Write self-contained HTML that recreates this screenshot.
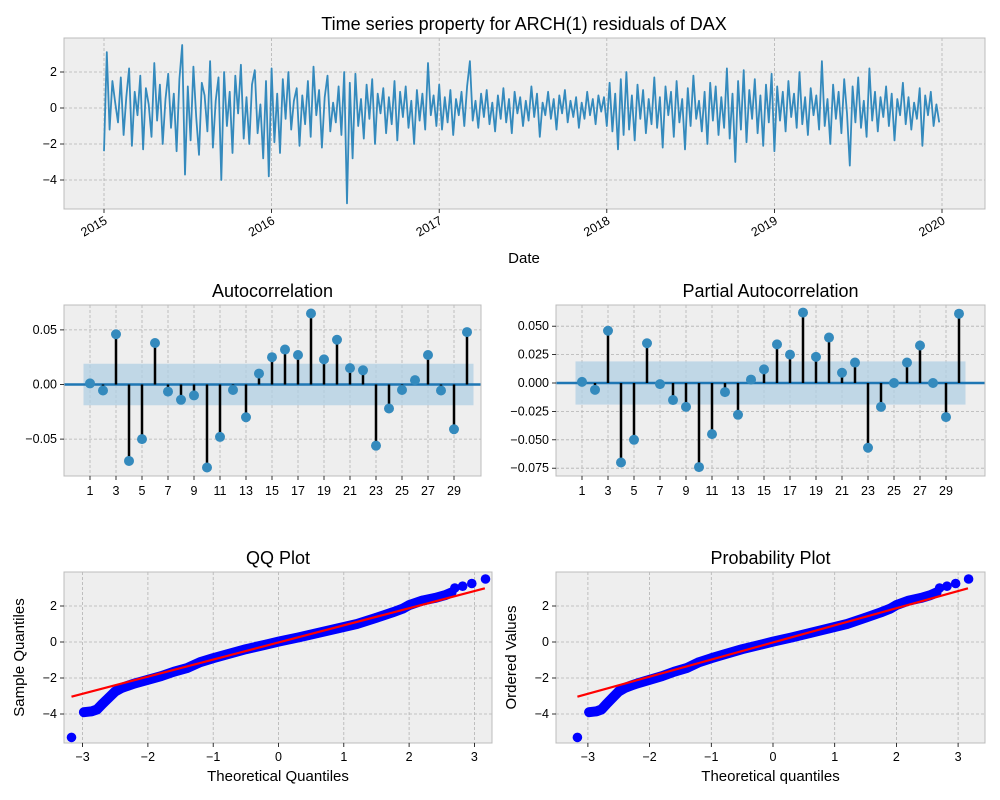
<!DOCTYPE html>
<html><head><meta charset="utf-8"><style>
html,body{margin:0;padding:0;background:#fff;}
svg{display:block;font-family:"Liberation Sans","DejaVu Sans",sans-serif;}
</style></head><body>
<svg id="fig" width="1000" height="800" xmlns="http://www.w3.org/2000/svg"></svg>
<script>
// ---------- data ----------
const seriesStartYear = 2015;
const seriesPerYear = 60;
const residuals = [
-2.4,3.1,-1.2,1.5,0.3,-0.8,1.7,-1.5,0.6,2.2,-2.1,0.9,-0.4,1.8,-2.3,1.1,0.2,-1.6,2.5,-0.7,1.3,-2.0,0.5,1.9,-1.1,0.8,-2.4,1.6,3.5,-3.7,1.2,-1.8,2.3,-0.5,-2.6,1.4,0.7,-1.3,2.6,-2.2,0.4,1.7,-4.0,2.0,-1.0,0.9,-2.5,1.8,-0.3,2.4,-1.7,0.6,-2.0,1.3,2.1,-1.4,0.2,-2.8,1.5,-3.8,
2.2,-1.9,0.8,-2.5,1.6,-0.6,2.0,-1.2,0.4,1.1,-2.1,0.7,-0.9,1.5,-1.6,2.3,-0.4,1.0,-2.2,0.6,1.8,-1.3,0.3,-0.8,1.2,-1.5,2.0,-5.3,1.4,-2.8,1.9,-1.0,0.5,-1.7,1.3,-0.6,1.6,-2.0,0.8,-0.3,1.1,-1.4,0.6,-0.9,1.5,-1.8,0.9,-0.5,1.2,-1.1,0.4,-2.0,1.0,-0.7,0.8,-1.2,2.5,-0.4,0.7,-1.0,
1.3,-1.2,0.6,-0.8,1.0,-1.5,0.5,-0.4,0.9,-1.0,1.2,2.6,-0.7,0.4,-1.1,0.8,-0.5,1.0,-0.9,0.3,-1.3,0.7,-0.6,1.1,-0.8,0.5,-1.4,0.9,-0.3,0.6,-1.0,0.4,-0.7,1.2,-0.5,0.8,-1.6,0.3,-0.4,0.9,-0.6,0.5,-1.2,0.7,-0.3,1.0,-0.8,0.4,-0.5,0.6,-1.1,0.3,-0.6,0.9,-0.4,0.5,-0.9,0.7,-0.2,0.6,
-1.0,1.4,-1.3,0.8,-2.3,1.6,-1.5,2.0,-1.2,0.7,-1.8,1.3,-0.6,1.0,-1.4,0.5,-0.9,1.7,-1.1,0.6,-2.2,1.2,-0.4,0.9,-1.6,1.5,-0.8,0.5,-2.3,1.1,-1.0,1.8,-0.6,0.4,-1.3,0.9,-2.0,1.4,-0.7,1.2,-1.5,0.6,-1.1,2.2,-1.7,0.8,-3.0,1.5,-1.2,2.1,-1.9,1.0,-0.6,1.6,-1.4,0.7,-2.1,1.3,-0.8,1.9,
-2.4,1.2,-0.7,0.9,-1.3,1.5,-0.5,0.8,-1.1,2.0,-0.9,0.6,-1.5,1.1,-0.4,0.7,-1.2,2.6,-1.0,0.5,-2.0,1.3,-0.6,0.9,-1.4,1.6,-0.3,-3.2,1.2,-0.8,1.7,-1.1,0.4,-1.6,2.2,-0.7,0.9,-1.3,0.6,-0.5,1.2,-1.0,0.8,-1.8,0.5,-0.4,1.4,-0.9,0.6,-1.2,0.3,-0.6,1.1,-2.1,0.7,-0.4,0.9,-1.0,0.2,-0.8];
const tsYearTicks = [2015,2016,2017,2018,2019,2020];
const tsYTicks = [2,0,-2,-4];
const acfValues = [0.001,-0.0055,0.046,-0.070,-0.050,0.038,-0.0065,-0.014,-0.010,-0.076,-0.048,-0.005,-0.030,0.010,0.025,0.032,0.027,0.065,0.023,0.041,0.015,0.013,-0.056,-0.022,-0.005,0.004,0.027,-0.0055,-0.041,0.048];
const pacfValues = [0.001,-0.006,0.046,-0.070,-0.050,0.035,-0.001,-0.015,-0.021,-0.074,-0.045,-0.008,-0.028,0.003,0.012,0.034,0.025,0.062,0.023,0.040,0.009,0.018,-0.057,-0.021,0,0.018,0.033,0,-0.030,0.061];
const confBand = 0.019;
const lagTicks = [1,3,5,7,9,11,13,15,17,19,21,23,25,27,29];
const acfYTicks = [0.05,0,-0.05];
const acfYLabels = ["0.05","0.00","\u22120.05"];
const pacfYTicks = [0.05,0.025,0,-0.025,-0.05,-0.075];
const pacfYLabels = ["0.050","0.025","0.000","\u22120.025","\u22120.050","\u22120.075"];
const qqTheoretical = [-3.17,-2.98,-2.86,-2.78,-2.7,-2.6,-2.5,-2.4,-2.3,-2.2,-2.0,-1.8,-1.6,-1.4,-1.2,-1.0,-0.8,-0.5,-0.2,0,0.3,0.6,0.9,1.2,1.5,1.75,1.9,2.0,2.2,2.4,2.55,2.65,2.7,2.82,2.96,3.17];
const qqSample = [-5.3,-3.9,-3.85,-3.75,-3.45,-3.1,-2.75,-2.55,-2.42,-2.3,-2.1,-1.9,-1.65,-1.45,-1.12,-0.9,-0.7,-0.4,-0.15,0.02,0.25,0.5,0.75,1.0,1.35,1.65,1.85,2.05,2.3,2.45,2.6,2.75,3.0,3.1,3.25,3.5];
const fitLineX = [-3.17,3.16];
const fitLineY = [-3.04,2.98];
const qqXTicks = [-3,-2,-1,0,1,2,3];
const qqYTicks = [2,0,-2,-4];

// ---------- helpers ----------
const NS="http://www.w3.org/2000/svg";
const svg=document.getElementById('fig');
function mk(tag,attrs,parent){const e=document.createElementNS(NS,tag);for(const k in attrs)e.setAttribute(k,attrs[k]);(parent||svg).appendChild(e);return e;}
function txt(s,x,y,size,anchor,parent,extra){const t=mk('text',Object.assign({x:x,y:y,'font-size':size,'text-anchor':anchor||'middle',fill:'#000'},extra||{}),parent);t.textContent=s;return t;}
function lin(d0,d1,p0,p1){return v=>p0+(v-d0)*(p1-p0)/(d1-d0);}
const neg=v=>String(v).replace('-','\u2212');

function axesBox(x0,y0,x1,y1,name){
  const g=mk('g',{});
  
  
  mk('rect',{x:x0,y:y0,width:x1-x0,height:y1-y0,fill:'#eeeeee'},g);
  return g;
}
function frame(g,x0,y0,x1,y1){mk('rect',{x:x0,y:y0,width:x1-x0,height:y1-y0,fill:'none',stroke:'#bcbcbc','stroke-width':1},g);}
function gridX(g,x,y0,y1){mk('line',{x1:x,x2:x,y1:y0,y2:y1,stroke:'#b2b2b2','stroke-width':0.8,'stroke-dasharray':'3,2'},g);}
function gridY(g,y,x0,x1){mk('line',{x1:x0,x2:x1,y1:y,y2:y,stroke:'#b2b2b2','stroke-width':0.8,'stroke-dasharray':'3,2'},g);}
function tickB(g,x,y){mk('line',{x1:x,x2:x,y1:y,y2:y+4,stroke:'#000','stroke-width':0.8},g);}
function tickL(g,x,y){mk('line',{x1:x-4,x2:x,y1:y,y2:y,stroke:'#000','stroke-width':0.8},g);}

// ---------- time series ----------
(function(){
  const x0=64,y0=38,x1=985,y1=209;
  const X=lin(2015,2020,104,942), Y=lin(0,2,108,72);
  const g=axesBox(x0,y0,x1,y1,'time-series-axes');
  tsYearTicks.forEach(t=>{gridX(g,X(t),y0,y1);});
  tsYTicks.forEach(t=>{gridY(g,Y(t),x0,x1);});
  let d='';
  residuals.forEach((v,i)=>{d+=(i?'L':'M')+X(seriesStartYear+i/seriesPerYear).toFixed(1)+','+Y(v).toFixed(1);});
  const p=mk('path',{d:d,fill:'none',stroke:'#348abd','stroke-width':1.8,'stroke-linejoin':'round'},g);
  
  
  frame(g,x0,y0,x1,y1);
  tsYearTicks.forEach(t=>{tickB(g,X(t),y1);
    const l=txt(String(t),X(t)+4,y1+14,12.5,'end',g,{transform:'rotate(-30 '+(X(t)+4)+' '+(y1+14)+')'});
    });
  tsYTicks.forEach(t=>{tickL(g,x0,Y(t));txt(neg(t),x0-7,Y(t)+4,12.5,'end',g);});
  const tt=txt('Time series property for ARCH(1) residuals of DAX',524,30,18,'middle');
  
  const xl=txt('Date',524,263,15,'middle');
  
})();

// ---------- ACF / PACF ----------
function corrPlot(vals,x0,x1,lag1x,zeroY,unitPx,unitVal,ticks,labels,title,name){
  const y0=305,y1=476;
  const X=lin(1,2,lag1x,lag1x+13), Y=lin(0,unitVal,zeroY,zeroY-unitPx);
  const g=axesBox(x0,y0,x1,y1,name);
  lagTicks.forEach(t=>gridX(g,X(t),y0,y1));
  ticks.forEach(t=>gridY(g,Y(t),x0,x1));
  const band=mk('rect',{x:X(0.5),y:Y(confBand),width:X(30.5)-X(0.5),height:Y(-confBand)-Y(confBand),fill:'#b0cfe3','fill-opacity':0.75},g);
  
  mk('line',{x1:x0,x2:x1,y1:Y(0),y2:Y(0),stroke:'#1f77b4','stroke-width':2.5},g);
  vals.forEach((v,i)=>{const lag=i+1;
    const s=mk('line',{x1:X(lag),x2:X(lag),y1:Y(0),y2:Y(v),stroke:'#000','stroke-width':2.5},g);
    
    const c=mk('circle',{cx:X(lag),cy:Y(v),r:5,fill:'#348abd'},g);
    });
  frame(g,x0,y0,x1,y1);
  lagTicks.forEach(t=>{tickB(g,X(t),y1);txt(String(t),X(t),y1+19,12.5,'middle',g);});
  ticks.forEach((t,i)=>{tickL(g,x0,Y(t));txt(labels[i],x0-7,Y(t)+4,12.5,'end',g);});
  const tt=txt(title,(x0+x1)/2,297,18,'middle');
  
}
corrPlot(acfValues,64,481,90,384.5,54.6,0.05,acfYTicks,acfYLabels,'Autocorrelation','acf-axes');
corrPlot(pacfValues,556,985,582,383,28.4,0.025,pacfYTicks,pacfYLabels,'Partial Autocorrelation','pacf-axes');

// ---------- QQ / probability ----------
function qqPlot(x0,x1,zeroX,unitX,title,xlab,ylab,name){
  const y0=572,y1=743;
  const X=lin(0,1,zeroX,zeroX+unitX), Y=lin(0,2,642,606);
  const g=axesBox(x0,y0,x1,y1,name);
  qqXTicks.forEach(t=>gridX(g,X(t),y0,y1));
  qqYTicks.forEach(t=>gridY(g,Y(t),x0,x1));
  let d='';
  qqTheoretical.forEach((q,i)=>{if(i>=1&&i<qqTheoretical.length-4)d+=(d?'L':'M')+X(q).toFixed(1)+','+Y(qqSample[i]).toFixed(1);});
  mk('path',{d:d,fill:'none',stroke:'#0000ff','stroke-width':10,'stroke-linejoin':'round','stroke-linecap':'round'},g);
  qqTheoretical.forEach((q,i)=>{const c=mk('circle',{cx:X(q),cy:Y(qqSample[i]),r:4.8,fill:'#0000ff'},g);
    });
  const fl=mk('line',{x1:X(fitLineX[0]),y1:Y(fitLineY[0]),x2:X(fitLineX[1]),y2:Y(fitLineY[1]),stroke:'#ff0000','stroke-width':2.2},g);
  
  frame(g,x0,y0,x1,y1);
  qqXTicks.forEach(t=>{tickB(g,X(t),y1);txt(neg(t),X(t),y1+18,12.5,'middle',g);});
  qqYTicks.forEach(t=>{tickL(g,x0,Y(t));txt(neg(t),x0-7,Y(t)+4,12.5,'end',g);});
  const tt=txt(title,(x0+x1)/2,564,18,'middle');
  
  const xl=txt(xlab,(x0+x1)/2,781,15,'middle');
  
  const yx=x0-40, yy=(y0+y1)/2;
  const yl=txt(ylab,yx,yy,15,'middle',null,{transform:'rotate(-90 '+yx+' '+yy+')'});
  
}
qqPlot(64,492,278.5,65.3,'QQ Plot','Theoretical Quantiles','Sample Quantiles','qq-axes');
qqPlot(556,985,773,61.7,'Probability Plot','Theoretical quantiles','Ordered Values','probability-axes');
</script>
</body></html>
